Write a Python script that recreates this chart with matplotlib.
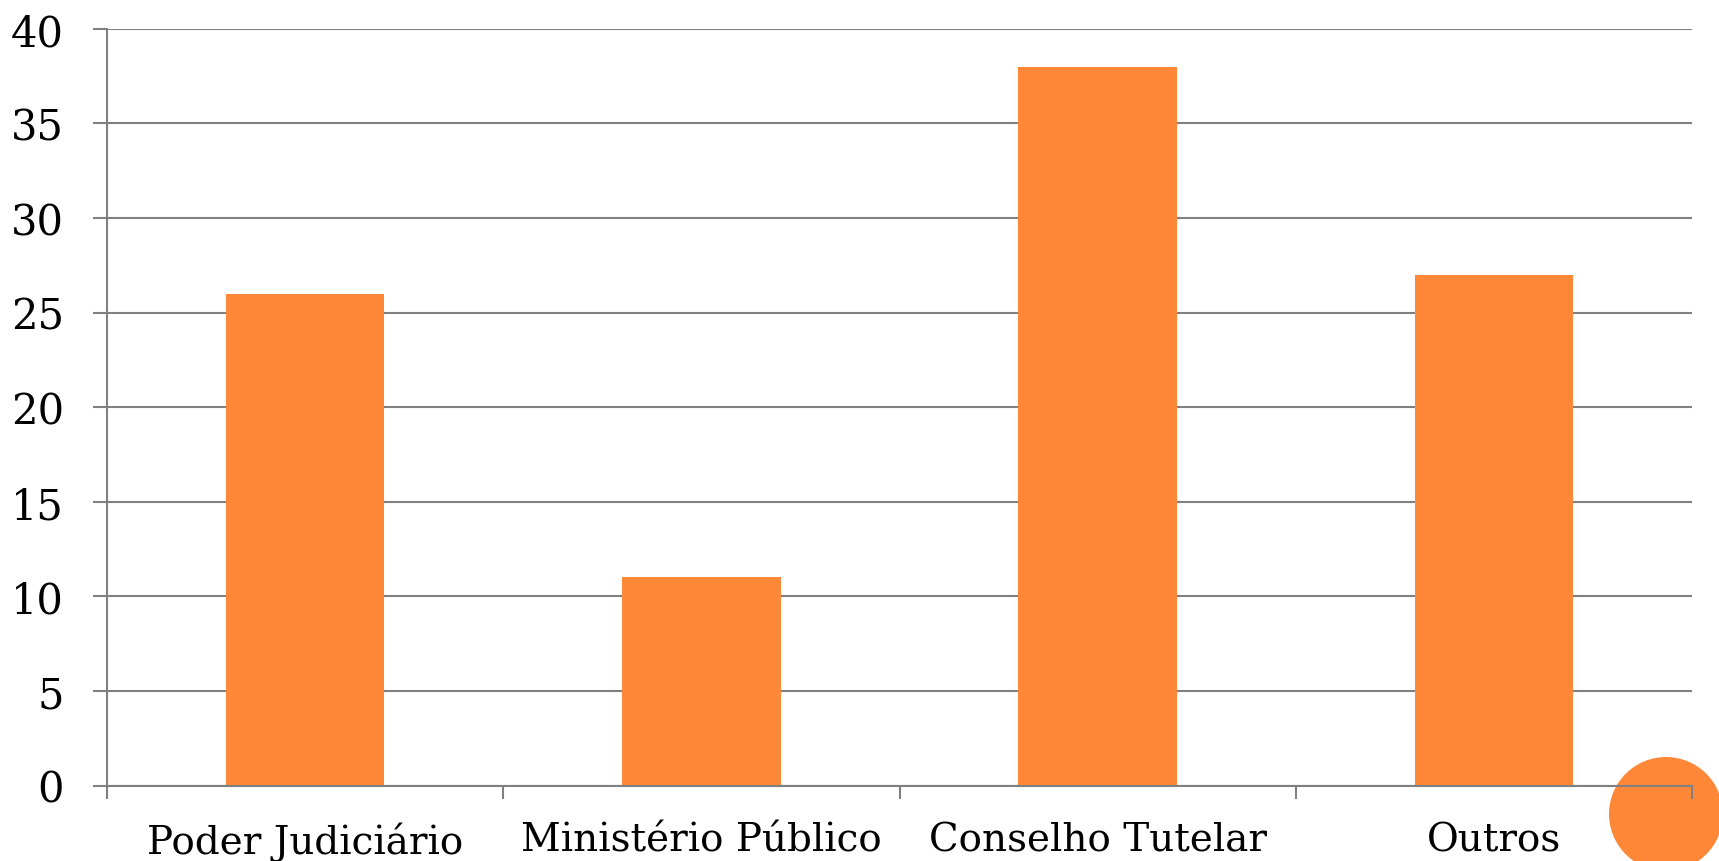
import matplotlib
matplotlib.use("Agg")
import matplotlib.pyplot as plt
from matplotlib.patches import Circle

categories = ["Poder Judiciário", "Ministério Público", "Conselho Tutelar", "Outros"]
values = [26, 11, 38, 27]
yticks = [0, 5, 10, 15, 20, 25, 30, 35, 40]

orange = "#FE8837"
gray = "#808080"

plt.rcParams['font.family'] = ['DejaVu Serif']

fig = plt.figure(figsize=(17.19, 8.62), dpi=100)
ax = fig.add_axes([107/1719, 1-786.5/862, (1692-107)/1719, (786.5-29.7)/862])
ax.set_facecolor('none')

x = list(range(len(categories)))
ax.bar(x, values, width=0.4, color=orange, zorder=3)

ax.set_xlim(-0.5, len(categories) - 0.5)
ax.set_ylim(0, 40)
ax.set_yticks(yticks)
ax.set_yticklabels([str(v) for v in yticks])
ax.set_xticks(x)
ax.set_xticklabels(categories)
ax.set_xticks([i - 0.5 for i in range(len(categories) + 1)], minor=True)
ax.tick_params(axis='x', which='major', length=0, pad=26, labelsize=28)
ax.tick_params(axis='x', which='minor', length=9.5, width=1.5, color=gray, direction='out')
ax.tick_params(axis='y', length=10, width=1.5, color=gray, pad=21, labelsize=30)

ax.yaxis.grid(True, color=gray, linewidth=1.5, zorder=0)
ax.set_axisbelow(True)
for s in ['top', 'right']:
    ax.spines[s].set_visible(False)
for s in ['left', 'bottom']:
    ax.spines[s].set_color(gray)
    ax.spines[s].set_linewidth(1.5)
    ax.spines[s].set_zorder(4)

# decorative circle (in inches so it stays round)
circ = Circle((16.66, (862 - 815) / 100), 0.57, transform=fig.dpi_scale_trans,
              facecolor=orange, edgecolor='none', zorder=-1)
fig.patches.append(circ)

fig.savefig("out.png", dpi=100)
